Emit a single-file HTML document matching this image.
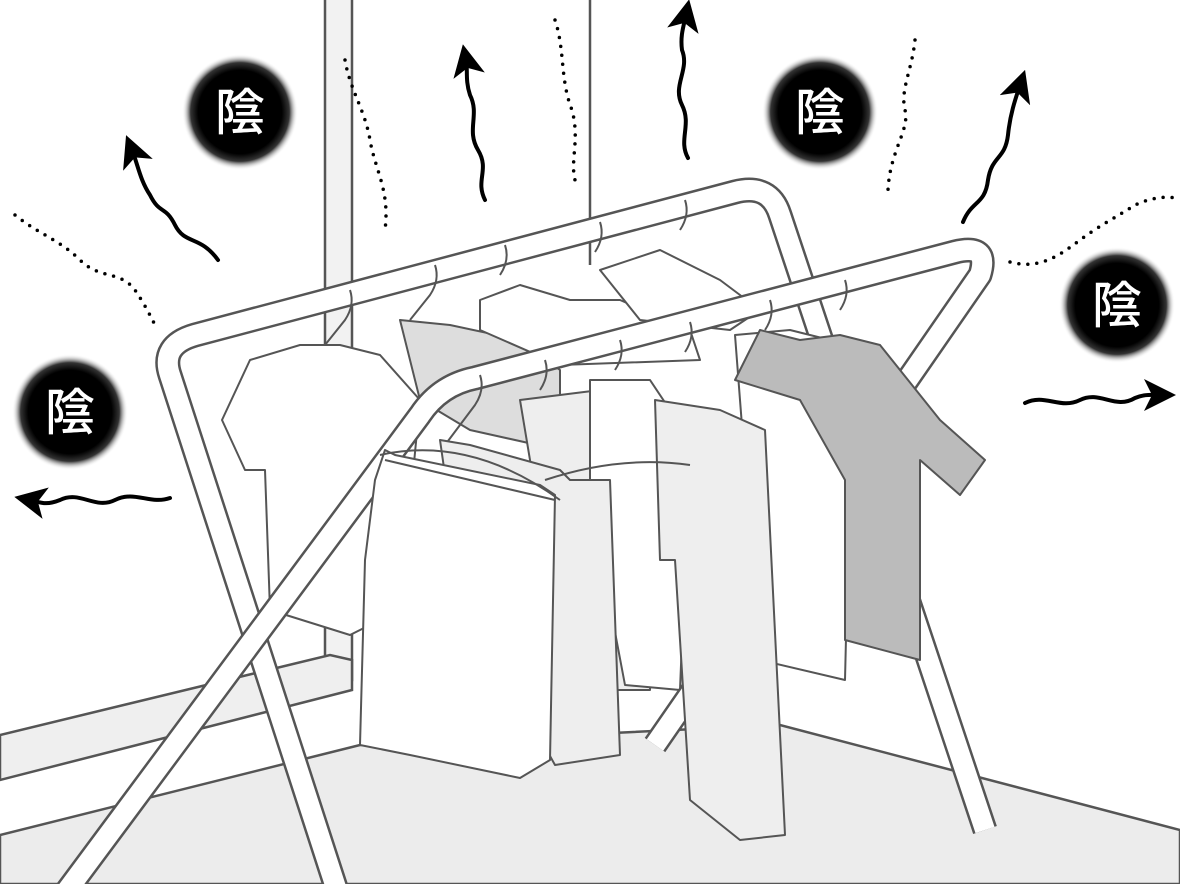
<!DOCTYPE html>
<html><head><meta charset="utf-8"><style>
html,body{margin:0;padding:0;background:#fff}
svg{display:block}
text{font-family:"Liberation Sans","Noto Sans CJK JP",sans-serif;font-weight:500}
</style></head><body>
<svg width="1180" height="884" viewBox="0 0 1180 884" xmlns="http://www.w3.org/2000/svg">
<defs>
<radialGradient id="g">
<stop offset="0" stop-color="#000"/><stop offset="0.72" stop-color="#000"/><stop offset="0.85" stop-color="#333"/><stop offset="1" stop-color="#fff" stop-opacity="0"/>
</radialGradient>
<marker id="ah" markerWidth="8" markerHeight="8" refX="4" refY="4" orient="auto" markerUnits="strokeWidth">
<path d="M0,0 L8,4 L0,8 L2,4 Z" fill="#000"/></marker>
</defs>
<g stroke="#555" stroke-width="2.5" fill="none">
<rect x="325" y="-5" width="27" height="685" fill="#f2f2f2"/>
<line x1="590" y1="0" x2="590" y2="265"/>
<polygon points="0,735 330,655 352,660 352,690 0,780" fill="#efefef"/>
<polygon points="0,835 360,745 780,725 1180,830 1180,884 0,884" fill="#ececec"/>
</g>
<g fill="none" stroke="#000" stroke-width="4" stroke-linecap="round">
<path d="M218,260 C200,235 185,245 175,225 C165,205 160,215 150,195 C140,180 138,165 132,150" marker-end="url(#ah)"/>
<path d="M485,200 C475,180 490,170 478,150 C466,130 480,115 470,95 C465,80 468,70 466,60" marker-end="url(#ah)"/>
<path d="M688,158 C678,140 692,125 682,105 C672,85 690,70 682,50 C680,35 684,25 686,15" marker-end="url(#ah)"/>
<path d="M963,222 C972,200 985,205 988,180 C992,155 1005,160 1008,135 C1010,115 1015,100 1020,85" marker-end="url(#ah)"/>
<path d="M1025,403 C1045,393 1060,410 1080,400 C1100,390 1115,410 1135,398 C1145,394 1150,395 1160,395" marker-end="url(#ah)"/>
<path d="M170,498 C150,505 135,490 115,500 C95,510 80,490 60,500 C45,506 40,502 30,500" marker-end="url(#ah)"/>
</g>
<g fill="none" stroke="#000" stroke-width="3.5" stroke-dasharray="0 9" stroke-linecap="round">
<path d="M15,215 C40,235 60,240 80,260 C100,280 120,270 135,290 C145,305 150,315 155,325"/>
<path d="M345,60 C350,90 365,110 370,140 C375,170 390,190 385,230"/>
<path d="M555,20 C565,50 560,80 572,110 C580,140 570,160 575,180"/>
<path d="M915,40 C912,70 900,90 905,110 C910,130 890,150 888,190"/>
<path d="M1010,262 C1040,270 1060,255 1080,240 C1100,225 1120,215 1135,205 C1150,198 1165,196 1175,198"/>
</g>
<g>
<circle cx="240" cy="112" r="58" fill="url(#g)"/>
<circle cx="820" cy="112" r="58" fill="url(#g)"/>
<circle cx="1117" cy="305" r="58" fill="url(#g)"/>
<circle cx="70" cy="412" r="58" fill="url(#g)"/>
<g fill="#fff" font-size="50" text-anchor="middle">
<text x="240" y="130">陰</text><text x="820" y="130">陰</text>
<text x="1117" y="323">陰</text><text x="70" y="430">陰</text>
</g>
</g>
<path d="M340,900 L170,375 Q160,345 195,335 L735,192 Q770,183 780,215 L985,830" fill="none" stroke="#555" stroke-width="25" stroke-linejoin="round"/>
<path d="M340,900 L170,375 Q160,345 195,335 L735,192 Q770,183 780,215 L985,830" fill="none" stroke="#fff" stroke-width="20" stroke-linejoin="round"/>
<g stroke="#555" stroke-width="2" stroke-linejoin="round">
<polygon points="300,345 340,345 380,355 420,400 400,610 350,635 270,610 265,470 245,470 222,420 250,360" fill="#fff"/>
<polygon points="400,320 450,325 520,340 560,370 560,450 470,430 420,400" fill="#ddd"/>
<polygon points="480,300 520,285 570,300 620,300 690,330 700,360 560,365 480,330" fill="#fff"/>
<polygon points="600,270 660,250 720,280 760,310 730,330 640,320" fill="#fff"/>
<polygon points="520,400 600,390 640,400 660,470 650,690 610,690 540,520" fill="#eee"/>
<polygon points="590,380 650,380 690,440 680,690 625,685 590,500" fill="#fff"/>
</g>
<path d="M60,900 L420,415 Q440,385 475,378 L955,252 Q990,243 980,275 L655,745" fill="none" stroke="#555" stroke-width="25" stroke-linejoin="round"/>
<path d="M60,900 L420,415 Q440,385 475,378 L955,252 Q990,243 980,275 L655,745" fill="none" stroke="#fff" stroke-width="20" stroke-linejoin="round"/>
<g fill="none" stroke="#555" stroke-width="2">
<path d="M350,290 q5,15 -5,30 l-20,25"/><path d="M435,265 q5,15 -5,30 l-20,25"/>
<path d="M505,245 q5,15 -5,30"/><path d="M600,222 q5,15 -5,30"/><path d="M685,200 q5,15 -5,30"/>
<path d="M480,375 q5,15 -5,30 l-30,40"/><path d="M545,360 q5,15 -5,30"/><path d="M620,340 q5,15 -5,30"/>
<path d="M690,322 q5,15 -5,30"/><path d="M770,300 q5,15 -5,30"/><path d="M845,280 q5,15 -5,30"/>
</g>
<g stroke="#555" stroke-width="2" stroke-linejoin="round">
<polygon points="735,335 790,330 850,345 900,440 910,490 880,520 850,470 845,680 760,660 740,400" fill="#fff"/>
<polygon points="760,330 800,340 840,335 880,345 940,420 985,460 960,495 920,460 920,660 845,640 845,480 800,400 735,380" fill="#bbb"/>
<polygon points="655,400 720,410 765,430 785,835 740,840 690,800 675,560 660,560" fill="#eee"/>
<polygon points="440,440 470,445 560,470 570,480 610,480 620,755 555,765 530,720 445,475" fill="#eee"/>
<polygon points="385,450 395,455 540,485 555,495 550,760 520,778 410,755 360,745 365,560 375,480" fill="#fff"/>
<path d="M385,460 L555,500" fill="none"/>
<path d="M380,455 Q470,435 560,500" fill="none"/>
<path d="M545,480 Q620,455 690,465" fill="none"/>
</g>
</svg>
</body></html>
